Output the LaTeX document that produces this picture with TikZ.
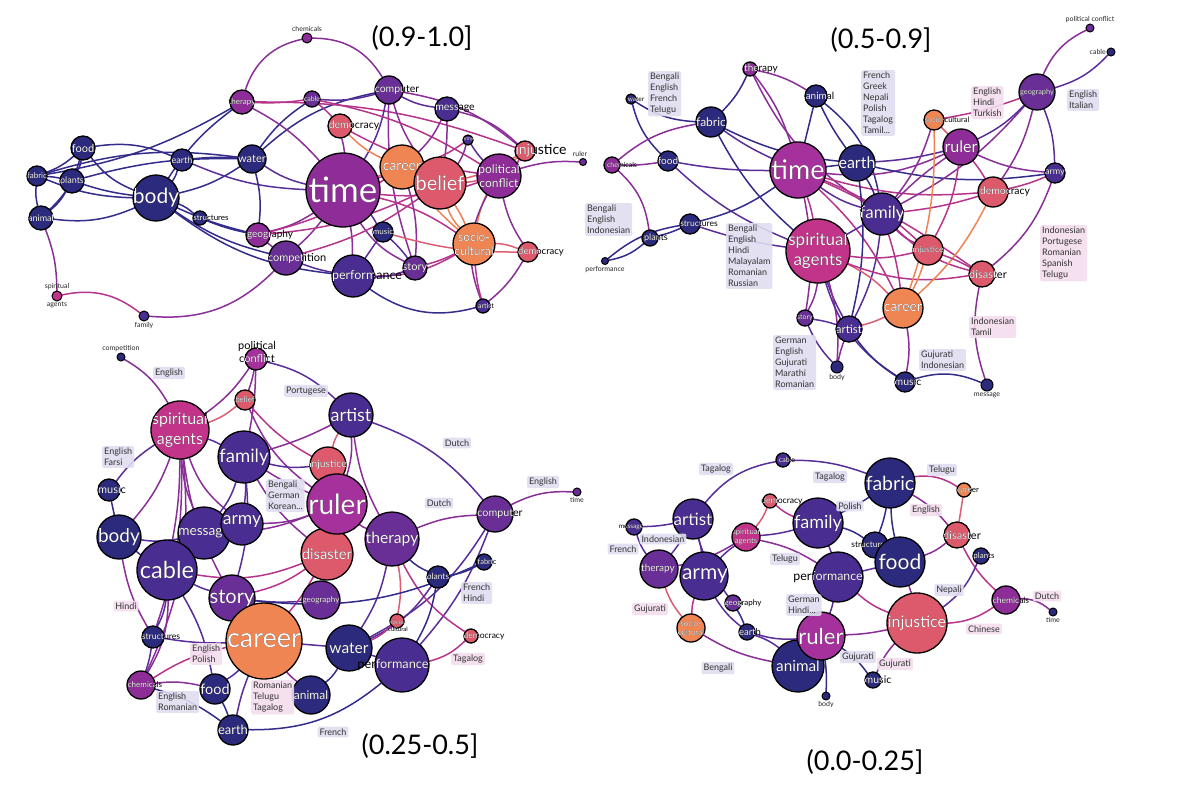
\documentclass[tikz,border=0pt]{standalone}
\usepackage{fontspec}
\setmainfont{Lato}
\usetikzlibrary{positioning,calc,backgrounds}
\definecolor{fnavy}{HTML}{2C2A7C}
\definecolor{findigo}{HTML}{4A2D90}
\definecolor{fviolet}{HTML}{6A2F96}
\definecolor{fpurple}{HTML}{8E2D97}
\definecolor{fplum}{HTML}{A5319C}
\definecolor{fmag}{HTML}{C1348A}
\definecolor{fred}{HTML}{DC5A6C}
\definecolor{forange}{HTML}{EF8552}
\definecolor{enavy}{HTML}{332C8A}
\definecolor{eindigo}{HTML}{5A2E98}
\definecolor{epurple}{HTML}{8A2F98}
\definecolor{emag}{HTML}{B7348C}
\definecolor{ered}{HTML}{DB5E72}
\definecolor{eorange}{HTML}{EE8356}
\definecolor{langblue}{HTML}{E0DDF0}
\definecolor{langpink}{HTML}{F3DDEE}
\tikzset{
  gball/.style={circle,draw=black,line width=1.3pt,inner sep=0pt,outer sep=0pt},
  gtext/.style={text=black,inner sep=0pt,align=center},
  tinylbl/.style={font=\fontsize{7}{8}\selectfont,inner sep=0.5pt,text=black!85},
  lang/.style={fill=langblue,fill opacity=0.9,text opacity=1,text=black!80,rounded corners=2pt,
               inner sep=2pt,align=left,font=\fontsize{9}{11}\selectfont},
  langp/.style={lang,fill=langpink},
  title/.style={font=\fontsize{27}{30}\selectfont},
  link/.style={draw=#1,line width=1.5pt},
}
% name, position, radius, fill, font size, text, text offset
\newcommand{\gnode}[7]{%
  \pgfmathsetmacro\gnbs{1.2*#5}%
  \node[gball,fill=#4,minimum size=2*#3pt] (#1) at (#2) {};
  \node[gtext,font=\fontsize{#5}{\gnbs}\selectfont] (#1-t) at ($(#1)+(#7)$) {#6};
  \begin{scope}
    \clip (#1.center) circle (#3pt);
    \node[gtext,text=white,font=\fontsize{#5}{\gnbs}\selectfont] (#1-w) at (#1-t) {#6};
  \end{scope}}
\newcommand{\tnode}[4]{\node[gball,line width=1pt,fill=#4,minimum size=2*#3pt] (#1) at (#2) {};}
\begin{document}
\begin{tikzpicture}[x=1pt,y=-1pt]
  \useasboundingbox (0,0) rectangle (1200,790);

  % (0.9-1.0]
  \node[title] (h-title) at (422,38) {(0.9-1.0]};
  \gnode{h-time}{343,190}{37}{fpurple}{35}{time}{0,0}
  \gnode{h-career}{402,167}{22}{forange}{14}{career}{0,0}
  \gnode{h-belief}{440,183}{26}{fred}{20}{belief}{0,0}
  \gnode{h-polit}{499,176}{22}{fpurple}{12}{political\\conflict}{0,0}
  \gnode{h-socio}{474,244}{21}{forange}{12}{socio-\\cultural}{0,0}
  \gnode{h-perf}{353,276}{21}{findigo}{12.5}{performance}{14,0}
  \gnode{h-story}{415,268}{12}{fviolet}{11}{story}{0,0}
  \gnode{h-music}{383,232}{10}{fnavy}{8}{music}{0,0}
  \gnode{h-democ2}{528,252}{10}{fred}{9.5}{democracy}{13,0}
  \gnode{h-artist}{483,306}{7}{findigo}{7}{artist}{3,0}
  \gnode{h-injust}{525,151}{10}{fred}{14}{injustice}{16,0}
  \gnode{h-army}{468,140}{5}{findigo}{5}{army}{0,0}
  \gnode{h-message}{447,109}{12}{findigo}{10.5}{message}{8,0}
  \gnode{h-computer}{389,90}{14}{fviolet}{10.5}{computer}{8,0}
  \gnode{h-cable}{312,99}{8}{fviolet}{7}{cable}{0,0}
  \gnode{h-democ}{340,126}{12}{fred}{10.5}{democracy}{14,0}
  \gnode{h-geo}{258,235}{12}{fpurple}{10}{geography}{12,0}
  \gnode{h-comp}{286,258}{17}{fviolet}{11}{competition}{11,0}
  \gnode{h-water}{252,159}{14}{fnavy}{11}{water}{0,0}
  \gnode{h-earth}{182,160}{11}{fnavy}{9}{earth}{0,0}
  \gnode{h-therapy}{242,102}{12}{fpurple}{8}{therapy}{0,0}
  \gnode{h-body}{156,198}{23}{fnavy}{21}{body}{0,0}
  \gnode{h-struct}{200,218}{7}{fnavy}{8}{structures}{11,0}
  \gnode{h-food}{83,148}{12}{fnavy}{11}{food}{0,0}
  \gnode{h-fabric}{37,176}{10}{fnavy}{8}{fabric}{0,0}
  \gnode{h-plants}{72,181}{12}{fnavy}{9}{plants}{0,0}
  \gnode{h-animal}{41,218}{12}{fnavy}{9}{animal}{0,0}
  \tnode{h-chem}{307,38}{5}{fpurple}
  \tnode{h-ruler}{583,162}{3.5}{fviolet}
  \tnode{h-spirit}{57,296}{5}{fmag}
  \tnode{h-family}{144,316}{5}{findigo}
  \node[tinylbl,above=1pt of h-chem] (h-chem-l) {chemicals};
  \node[tinylbl,above=1pt of h-ruler,xshift=-3pt] (h-ruler-l) {ruler};
  \node[tinylbl,above=0.5pt of h-spirit] (h-spirit-l) {spiritual};
  \node[tinylbl,below=0.5pt of h-spirit] (h-spirit-l2) {agents};
  \node[tinylbl,below=1pt of h-family] (h-family-l) {family};

  % (0.5-0.9]
  \node[title] (m-title) at (881,40) {(0.5-0.9]};
  \gnode{m-time}{798,170}{28}{fplum}{27}{time}{0,0}
  \gnode{m-earth}{857,163}{18}{fnavy}{16}{earth}{0,0}
  \gnode{m-fabric}{711,122}{15}{fnavy}{12}{fabric}{0,0}
  \gnode{m-animal}{816,96}{11}{fnavy}{10}{animal}{4,0}
  \gnode{m-therapy}{750,69}{7}{fpurple}{10}{therapy}{11,0}
  \gnode{m-water}{631,99}{5}{fnavy}{6.5}{water}{5,0}
  \gnode{m-food}{668,161}{10}{fnavy}{10}{food}{0,0}
  \gnode{m-chem}{612,165}{8}{fpurple}{7}{chemicals}{10,0}
  \gnode{m-struct}{690,224}{10}{fnavy}{8.5}{structures}{9,0}
  \gnode{m-plants}{650,238}{8}{fnavy}{9}{plants}{6,0}
  \gnode{m-spirit}{818,251}{32}{fmag}{17}{spiritual\\agents}{0,0}
  \gnode{m-family}{882,214}{21}{findigo}{17}{family}{0,0}
  \gnode{m-ruler}{961,147}{18}{fpurple}{16}{ruler}{0,0}
  \gnode{m-socio}{934,120}{10}{forange}{7.5}{socio-cultural}{13,0}
  \gnode{m-geo}{1037,92}{18}{fviolet}{7.3}{geography}{0,0}
  \gnode{m-army}{1055,173}{10}{findigo}{9}{army}{0,0}
  \gnode{m-democ}{993,192}{15}{fred}{10.4}{democracy}{12,0}
  \gnode{m-injust}{928,250}{15}{fred}{8.5}{injustice}{0,0}
  \gnode{m-disaster}{982,274}{13}{fred}{11}{disaster}{6,0}
  \gnode{m-career}{903,308}{20}{forange}{14}{career}{0,0}
  \gnode{m-music}{905,382}{10}{fnavy}{10.5}{music}{3,0}
  \gnode{m-artist}{849,329}{13}{findigo}{11.5}{artist}{0,0}
  \gnode{m-story}{805,318}{8}{fviolet}{7}{story}{0,0}
  \tnode{m-body}{837,367}{6}{fnavy}
  \tnode{m-message}{987,385}{6}{fnavy}
  \tnode{m-perf}{605,261}{3.5}{fnavy}
  \tnode{m-polit}{1090,28}{4}{fviolet}
  \tnode{m-cable}{1111,52}{4}{fnavy}
  \node[tinylbl,below=1pt of m-body] (m-body-l) {body};
  \node[tinylbl,below=1pt of m-message] (m-message-l) {message};
  \node[tinylbl,below=1pt of m-perf] (m-perf-l) {performance};
  \node[tinylbl,above=1pt of m-polit] (m-polit-l) {political conflict};
  \node[tinylbl,left=0.5pt of m-cable] (m-cable-l) {cable};
  \node[lang,anchor=north west] (m-lg1) at (648,71) {Bengali\\English\\French\\Telugu};
  \node[lang,anchor=north west] (m-lg2) at (861,70) {French\\Greek\\Nepali\\Polish\\Tagalog\\Tamil...};
  \node[lang,anchor=north west] (m-lg3) at (585,203) {Bengali\\English\\Indonesian};
  \node[lang,anchor=north west] (m-lg4) at (726,223) {Bengali\\English\\Hindi\\Malayalam\\Romanian\\Russian};
  \node[lang,anchor=north west] (m-lg5) at (773,335) {German\\English\\Gujurati\\Marathi\\Romanian};
  \node[langp,anchor=north west] (m-lg6) at (971,86) {English\\Hindi\\Turkish};
  \node[lang,anchor=north west] (m-lg7) at (1067,89) {English\\Italian};
  \node[langp,anchor=north west] (m-lg8) at (1040,225) {Indonesian\\Portugese\\Romanian\\Spanish\\Telugu};
  \node[langp,anchor=north west] (m-lg9) at (969,316) {Indonesian\\Tamil};
  \node[lang,anchor=north west] (m-lg10) at (919,349) {Gujurati\\Indonesian};

  % (0.25-0.5]
  \node[title] (l-title) at (420,746) {(0.25-0.5]};
  \gnode{l-spirit}{180,430}{29}{fmag}{16}{spiritual\\agents}{0,0}
  \gnode{l-polit}{256,359}{11}{fplum}{11}{political\\conflict}{1,-7}
  \gnode{l-belief}{245,400}{10}{fred}{8}{belief}{0,0}
  \gnode{l-artist}{351,415}{22}{findigo}{18}{artist}{0,0}
  \gnode{l-family}{244,457}{26}{findigo}{18.5}{family}{0,0}
  \gnode{l-injust}{328,465}{18}{fred}{10.3}{injustice}{0,0}
  \gnode{l-disaster}{327,554}{26}{fred}{14.7}{disaster}{0,0}
  \gnode{l-ruler}{337,504}{30}{fplum}{28}{ruler}{0,0}
  \gnode{l-music}{109,490}{11}{fnavy}{11}{music}{3,0}
  \gnode{l-message}{204,533}{26}{findigo}{13.7}{message}{0,0}
  \gnode{l-army}{242,524}{21}{findigo}{17.5}{army}{0,-3}
  \gnode{l-body}{119,537}{22}{fnavy}{19}{body}{0,0}
  \gnode{l-computer}{495,514}{18}{fviolet}{10.7}{computer}{5,0}
  \gnode{l-therapy}{392,539}{27}{fviolet}{15.7}{therapy}{0,0}
  \gnode{l-cable}{167,570}{30}{findigo}{23.5}{cable}{0,0}
  \gnode{l-geo}{321,600}{19}{fviolet}{8}{geography}{0,0}
  \gnode{l-story}{232,598}{23}{fviolet}{20}{story}{0,0}
  \gnode{l-career}{264,641}{38}{forange}{27}{career}{0,0}
  \gnode{l-water}{349,648}{23}{fnavy}{15.5}{water}{0,0}
  \gnode{l-fabric}{484,562}{8}{fnavy}{7.5}{fabric}{3,0}
  \gnode{l-plants}{438,577}{11}{fnavy}{8.5}{plants}{0,0}
  \gnode{l-struct}{153,637}{11}{fnavy}{8.7}{structures}{8,0}
  \gnode{l-socio}{397,621}{7}{fred}{6}{socio-\\cultural}{1,4.5}
  \gnode{l-democ}{471,636}{7}{fred}{8.5}{democracy}{13,0}
  \gnode{l-perf}{402,665}{27}{findigo}{12.7}{performance}{-9,0}
  \gnode{l-chem}{141,685}{14}{fpurple}{8}{chemicals}{4,0}
  \gnode{l-food}{215,689}{15}{fnavy}{14.4}{food}{0,0}
  \gnode{l-animal}{311,695}{19}{fnavy}{12}{animal}{0,0}
  \gnode{l-earth}{233,730}{15}{fnavy}{13}{earth}{0,0}
  \tnode{l-comp}{121,357}{4}{fnavy}
  \tnode{l-time}{577,492}{4}{fviolet}
  \node[tinylbl,above=1pt of l-comp] (l-comp-l) {competition};
  \node[tinylbl,below=1pt of l-time] (l-time-l) {time};
  \node[lang] (l-lg1) at (169,373) {English};
  \node[lang] (l-lg2) at (306,391) {Portugese};
  \node[lang,anchor=north west] (l-lg3) at (102,446) {English\\Farsi};
  \node[lang,anchor=north west] (l-lg4) at (266,479) {Bengali\\German\\Korean...};
  \node[lang] (l-lg5) at (457,443) {Dutch};
  \node[lang] (l-lg6) at (439,503) {Dutch};
  \node[lang] (l-lg7) at (543,482) {English};
  \node[langp] (l-lg8) at (126,606) {Hindi};
  \node[lang,anchor=north west] (l-lg9) at (461,582) {French\\Hindi};
  \node[langp,anchor=north west] (l-lg10) at (190,643) {English\\Polish};
  \node[langp,anchor=north west] (l-lg11) at (251,680) {Romanian\\Telugu\\Tagalog};
  \node[lang,anchor=north west] (l-lg12) at (156,691) {English\\Romanian};
  \node[lang] (l-lg13) at (333,732) {French};
  \node[langp] (l-lg14) at (468,659) {Tagalog};

  % (0.0-0.25]
  \node[title] (z-title) at (865,762) {(0.0-0.25]};
  \gnode{z-cable}{783,460}{7}{findigo}{7}{cable}{4,0}
  \gnode{z-democ}{770,501}{7}{fred}{8.6}{democracy}{12,0}
  \gnode{z-perf}{838,577}{25}{findigo}{12.4}{performance}{-10,0}
  \gnode{z-family}{818,523}{25}{findigo}{18}{family}{0,0}
  \gnode{z-artist}{693,519}{20}{findigo}{17}{artist}{0,0}
  \gnode{z-message}{634,527}{8}{findigo}{6.5}{message}{-3,0}
  \gnode{z-spirit}{746,537}{14}{fmag}{7.7}{spiritual\\agents}{0,0}
  \gnode{z-therapy}{659,569}{19}{fviolet}{10}{therapy}{-1,0}
  \gnode{z-army}{704,576}{24}{findigo}{21}{army}{1,0}
  \gnode{z-geo}{733,603}{8}{fviolet}{8}{geography}{10,0}
  \gnode{z-socio}{691,628}{14}{forange}{8}{socio-\\cultural}{0,0}
  \gnode{z-earth}{747,632}{8}{fnavy}{9.5}{earth}{3,0}
  \gnode{z-animal}{798,666}{26}{fnavy}{15.3}{animal}{0,0}
  \gnode{z-ruler}{821,636}{24}{fplum}{22}{ruler}{0,0}
  \gnode{z-fabric}{890,483}{25}{fnavy}{19.5}{fabric}{0,0}
  \gnode{z-career}{964,490}{7}{forange}{8}{career}{4,0}
  \gnode{z-struct}{875,545}{13}{fnavy}{8.4}{structures}{-5,0}
  \gnode{z-food}{900,562}{25}{fnavy}{21}{food}{0,0}
  \gnode{z-disaster}{957,535}{13}{fred}{11}{disaster}{5,0}
  \gnode{z-plants}{981,556}{8}{fnavy}{8}{plants}{3,0}
  \gnode{z-chem}{1006,600}{14}{fpurple}{8.5}{chemicals}{5,0}
  \gnode{z-injust}{917,623}{30}{fred}{16}{injustice}{0,0}
  \gnode{z-music}{873,680}{8}{fnavy}{10.5}{music}{5,0}
  \tnode{z-body}{826,696}{4}{fnavy}
  \tnode{z-time}{1053,612}{4}{fnavy}
  \node[tinylbl,below=1pt of z-body] (z-body-l) {body};
  \node[tinylbl,below=1pt of z-time] (z-time-l) {time};
  \node[lang] (z-lg1) at (716,469) {Tagalog};
  \node[lang] (z-lg2) at (830,477) {Tagalog};
  \node[lang] (z-lg3) at (663,539) {Indonesian};
  \node[lang] (z-lg4) at (623,549) {French};
  \node[lang] (z-lg5) at (785,559) {Telugu};
  \node[lang,anchor=north west] (z-lg6) at (786,594) {German\\Hindi...};
  \node[langp] (z-lg7) at (650,609) {Gujurati};
  \node[lang] (z-lg8) at (718,668) {Bengali};
  \node[lang] (z-lg9) at (850,506) {Polish};
  \node[langp] (z-lg10) at (926,510) {English};
  \node[lang] (z-lg11) at (942,470) {Telugu};
  \node[lang] (z-lg12) at (949,590) {Nepali};
  \node[langp] (z-lg13) at (1047,596) {Dutch};
  \node[langp] (z-lg14) at (984,629) {Chinese};
  \node[lang] (z-lg15) at (858,657) {Gujurati};
  \node[langp] (z-lg16) at (895,664) {Gujurati};

  \begin{scope}[on background layer]
    \fill[white] (0,0) rectangle (1200,790);
    \foreach \p/\q/\c/\b in {animal/fabric/enavy/10,animal/food/enavy/-15,animal/plants/enavy/-10,
      animal/body/enavy/-15,fabric/food/enavy/-10,fabric/plants/enavy/5,fabric/body/enavy/-10,
      food/plants/enavy/10,food/body/enavy/-15,plants/body/enavy/-5,food/earth/enavy/15,
      fabric/water/enavy/12,plants/water/enavy/8,fabric/therapy/enavy/-10,body/earth/enavy/-10,
      body/water/enavy/-10,body/therapy/enavy/10,body/struct/enavy/10,body/comp/enavy/-10,
      body/perf/enavy/-15,body/geo/enavy/-5,earth/water/enavy/5,earth/time/eindigo/-10,
      struct/geo/enavy/-5,water/geo/enavy/10,water/time/eindigo/-10,water/computer/enavy/15,
      water/cable/enavy/10,animal/spirit/epurple/10,spirit/family/emag/25,family/comp/epurple/-25,
      therapy/chem/epurple/30,therapy/cable/emag/-5,therapy/time/epurple/10,therapy/injust/emag/10,
      chem/computer/epurple/30,computer/cable/eindigo/10,computer/message/eindigo/-10,
      computer/time/eindigo/10,computer/belief/epurple/-10,computer/story/epurple/-10,
      computer/injust/epurple/15,cable/democ/emag/5,cable/polit/emag/10,democ/time/epurple/5,
      democ/career/eorange/-10,democ/polit/emag/-10,message/belief/epurple/5,message/career/epurple/10,
      message/injust/epurple/15,army/polit/eindigo/-5,army/belief/epurple/10,army/career/emag/10,
      injust/polit/emag/10,injust/socio/eorange/-20,injust/belief/ered/10,polit/ruler/epurple/10,
      polit/belief/ered/5,polit/democ2/epurple/-10,polit/artist/epurple/-25,time/career/ered/0,
      time/belief/emag/15,time/comp/epurple/5,time/perf/epurple/5,time/music/eindigo/5,
      time/story/epurple/-15,time/geo/epurple/10,time/socio/emag/10,time/polit/emag/-12,
      belief/socio/eorange/5,belief/socio/eorange/-12,career/socio/eorange/-5,career/story/epurple/10,
      socio/democ2/ered/10,socio/artist/emag/-5,socio/story/emag/5,socio/perf/emag/15,
      music/democ2/ered/-8,music/story/eindigo/5,music/perf/eindigo/0,perf/artist/enavy/-25,
      perf/comp/eindigo/5,perf/story/eindigo/-10,democ2/artist/epurple/10,comp/geo/epurple/0,
      comp/belief/emag/-10,geo/career/emag/-10,geo/belief/emag/-10}
      \draw[link=\c] (h-\p) to[bend left=\b] (h-\q);
    \foreach \p/\q/\c/\b in {water/fabric/enavy/-15,water/food/enavy/-15,fabric/earth/enavy/-10,
      therapy/fabric/enavy/10,therapy/animal/epurple/10,therapy/time/epurple/10,
      therapy/family/epurple/-15,animal/time/enavy/0,animal/earth/enavy/-5,animal/family/enavy/20,
      fabric/time/eindigo/-5,fabric/chem/epurple/-15,fabric/spirit/enavy/-10,chem/food/epurple/-5,
      chem/plants/epurple/20,food/time/eindigo/-5,food/spirit/eindigo/-10,struct/plants/enavy/5,
      struct/time/enavy/-10,struct/perf/enavy/-15,struct/spirit/eindigo/-5,perf/plants/enavy/-15,
      time/earth/enavy/0,time/spirit/emag/5,time/family/eindigo/-10,time/injust/emag/10,
      time/democ/emag/-10,time/ruler/epurple/-15,time/career/emag/10,time/disaster/emag/5,
      time/story/epurple/10,earth/family/enavy/5,earth/ruler/eindigo/-5,earth/army/enavy/-10,
      earth/artist/enavy/10,family/ruler/epurple/5,family/democ/emag/-5,family/injust/epurple/-10,
      family/geo/epurple/-10,family/career/emag/5,family/spirit/eindigo/0,family/artist/eindigo/10,
      family/disaster/emag/-15,spirit/story/epurple/10,spirit/artist/eindigo/-5,spirit/career/ered/10,
      spirit/injust/emag/-10,spirit/disaster/emag/-15,spirit/body/epurple/10,spirit/music/eindigo/-20,
      story/artist/eindigo/5,story/body/eindigo/-10,artist/body/epurple/-5,artist/music/enavy/-10,
      artist/career/ered/-5,career/music/epurple/10,career/injust/eorange/-5,career/democ/eorange/-10,
      career/socio/eorange/-10,socio/geo/emag/-5,socio/ruler/ered/0,socio/family/epurple/10,
      ruler/geo/eindigo/-10,ruler/army/epurple/-10,ruler/democ/emag/5,ruler/injust/emag/10,
      geo/polit/epurple/20,geo/cable/eindigo/-15,geo/army/eindigo/10,geo/democ/epurple/10,
      army/disaster/epurple/15,army/democ/emag/5,disaster/message/epurple/-15,
      disaster/injust/emag/-5,music/message/enavy/20}
      \draw[link=\c] (m-\p) to[bend left=\b] (m-\q);
    \foreach \p/\q/\c/\b in {comp/spirit/epurple/15,polit/artist/eindigo/15,polit/family/epurple/5,
      polit/spirit/epurple/10,polit/belief/epurple/5,belief/spirit/ered/10,belief/ruler/epurple/-15,
      belief/injust/emag/-10,spirit/family/eindigo/5,spirit/music/eindigo/-10,spirit/body/epurple/10,
      spirit/message/epurple/-10,spirit/army/epurple/-15,spirit/cable/epurple/5,spirit/story/epurple/-10,
      spirit/struct/epurple/10,spirit/chem/epurple/15,artist/computer/eindigo/15,artist/injust/ered/-10,
      artist/ruler/epurple/10,artist/family/epurple/5,artist/therapy/epurple/-10,family/injust/eindigo/-10,
      family/army/eindigo/5,family/message/eindigo/10,family/disaster/epurple/-10,family/ruler/epurple/-5,
      family/story/eindigo/10,music/body/enavy/0,ruler/therapy/epurple/-10,ruler/disaster/emag/5,
      ruler/army/epurple/10,ruler/message/epurple/10,computer/time/epurple/15,computer/therapy/epurple/-10,
      computer/perf/eindigo/10,computer/water/eindigo/15,body/cable/enavy/-5,body/message/eindigo/-10,
      body/struct/epurple/-10,cable/story/eindigo/-5,cable/struct/eindigo/10,cable/chem/epurple/15,
      cable/food/eindigo/10,cable/disaster/emag/-15,story/career/ered/0,story/disaster/emag/-10,
      story/geo/eindigo/-5,disaster/geo/epurple/0,disaster/career/emag/5,therapy/plants/enavy/-10,
      therapy/water/eindigo/10,therapy/democ/emag/-15,therapy/socio/ered/10,fabric/plants/enavy/10,
      fabric/story/enavy/15,plants/perf/enavy/10,plants/water/eindigo/15,struct/chem/eindigo/5,
      struct/career/eindigo/-5,chem/career/emag/10,chem/earth/enavy/10,chem/food/epurple/10,
      career/water/eindigo/0,career/animal/epurple/-5,career/earth/eindigo/-5,career/food/eindigo/5,
      water/animal/enavy/10,water/perf/eindigo/0,water/socio/emag/-10,perf/democ/emag/-15,
      perf/earth/enavy/20,food/earth/enavy/5}
      \draw[link=\c] (l-\p) to[bend left=\b] (l-\q);
    \foreach \p/\q/\c/\b in {artist/cable/eindigo/20,cable/fabric/eindigo/10,democ/spirit/ered/10,
      democ/family/emag/-10,family/spirit/eindigo/5,family/fabric/enavy/-5,family/struct/enavy/10,
      family/perf/eindigo/5,artist/message/eindigo/5,artist/army/eindigo/5,artist/geo/eindigo/-10,
      artist/therapy/eindigo/5,message/therapy/eindigo/-10,spirit/therapy/epurple/10,
      spirit/army/eindigo/-5,spirit/perf/epurple/10,therapy/socio/ered/-10,army/socio/emag/-10,
      army/earth/eindigo/-10,geo/earth/enavy/5,socio/animal/epurple/-10,earth/ruler/eindigo/-10,
      earth/animal/eindigo/10,perf/ruler/eindigo/5,perf/injust/emag/-10,perf/food/eindigo/0,
      ruler/animal/epurple/0,ruler/injust/epurple/-5,ruler/music/enavy/10,ruler/body/enavy/5,
      fabric/career/emag/20,fabric/disaster/epurple/10,fabric/struct/enavy/5,fabric/food/enavy/-5,
      career/disaster/ered/0,disaster/food/epurple/10,disaster/chem/emag/-10,plants/injust/eindigo/15,
      injust/chem/emag/-15,injust/music/epurple/-10,injust/food/epurple/-5,chem/time/epurple/20}
      \draw[link=\c] (z-\p) to[bend left=\b] (z-\q);
  \end{scope}
\end{tikzpicture}
\end{document}
